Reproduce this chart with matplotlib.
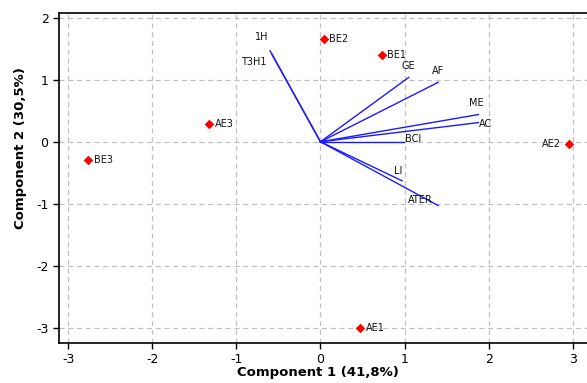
import matplotlib
matplotlib.use("Agg")
import matplotlib.pyplot as plt

plt.rcParams["axes.unicode_minus"] = False

# Scores (samples)
sample_names = ["BE2", "BE1", "AE3", "BE3", "AE2", "AE1"]
sample_x = [0.04, 0.73, -1.32, -2.76, 2.96, 0.47]
sample_y = [1.66, 1.40, 0.285, -0.30, -0.03, -3.00]

# Loadings (variables)
var_names = ["1H", "T3H1", "GE", "AF", "ME", "AC", "BCI", "LI", "ATER"]
var_x = [-0.60, -0.58, 1.05, 1.40, 1.88, 1.88, 0.99, 0.97, 1.40]
var_y = [1.47, 1.42, 1.04, 0.96, 0.44, 0.31, 0.00, -0.63, -1.03]

x_ticks = [-3, -2, -1, 0, 1, 2, 3]
y_ticks = [-3, -2, -1, 0, 1, 2]

W, H = 587, 383
fig = plt.figure(figsize=(W / 100, H / 100), dpi=100)
ax = fig.add_axes([59 / W, (H - 343) / H, (592 - 59) / W, (343 - 13) / H])

ax.set_xlim(-3.11, 3.23)
ax.set_ylim(-3.25, 2.08)
ax.set_xticks(x_ticks)
ax.set_yticks(y_ticks)
ax.grid(True, linestyle=(0, (4, 3)), color="#c0c0c0", linewidth=0.9)
ax.set_axisbelow(True)
for s in ax.spines.values():
    s.set_linewidth(1.2)
    s.set_color("black")
ax.tick_params(direction="out", length=4, width=1, labelsize=9, colors="black")

# variable vectors
var_offsets = {
    "1H": (-6, 10, "center"),
    "T3H1": (-4, -6, "right"),
    "GE": (0, 8, "center"),
    "AF": (0, 8, "center"),
    "ME": (4, 8, "right"),
    "AC": (0, -1, "left"),
    "BCI": (1, 2, "left"),
    "LI": (-3, 7, "center"),
    "ATER": (-22, 4, "left"),
}
for n, vx, vy in zip(var_names, var_x, var_y):
    ax.plot([0, vx], [0, vy], color="#1a1aff", linewidth=1.0, zorder=3)
    dx, dy, ha = var_offsets[n]
    ax.annotate(n, (vx, vy), xytext=(dx, dy), textcoords="offset points",
                ha=ha, va="center", fontsize=7, color="#111111", zorder=4)

# sample points
ax.scatter(sample_x, sample_y, marker="D", s=24, color="#ff0000", zorder=5, linewidths=0)
for n, sx, sy in zip(sample_names, sample_x, sample_y):
    if n == "AE2":
        ax.annotate(n, (sx, sy), xytext=(-6, 0), textcoords="offset points",
                    ha="right", va="center", fontsize=7, color="#111111", zorder=6)
    else:
        ax.annotate(n, (sx, sy), xytext=(4, 0), textcoords="offset points",
                    ha="left", va="center", fontsize=7, color="#111111", zorder=6)

ax.set_xlabel("Component 1 (41,8%)", fontsize=9.5, fontweight="bold")
ax.set_ylabel("Component 2 (30,5%)", fontsize=9.5, fontweight="bold")
ax.xaxis.set_label_coords((318 - 59) / (592 - 59), -(366 - 343) / 330)
ax.yaxis.set_label_coords(-(59 - 27) / (592 - 59), (343 - 148) / 330)

fig.savefig("out.png", dpi=100)
